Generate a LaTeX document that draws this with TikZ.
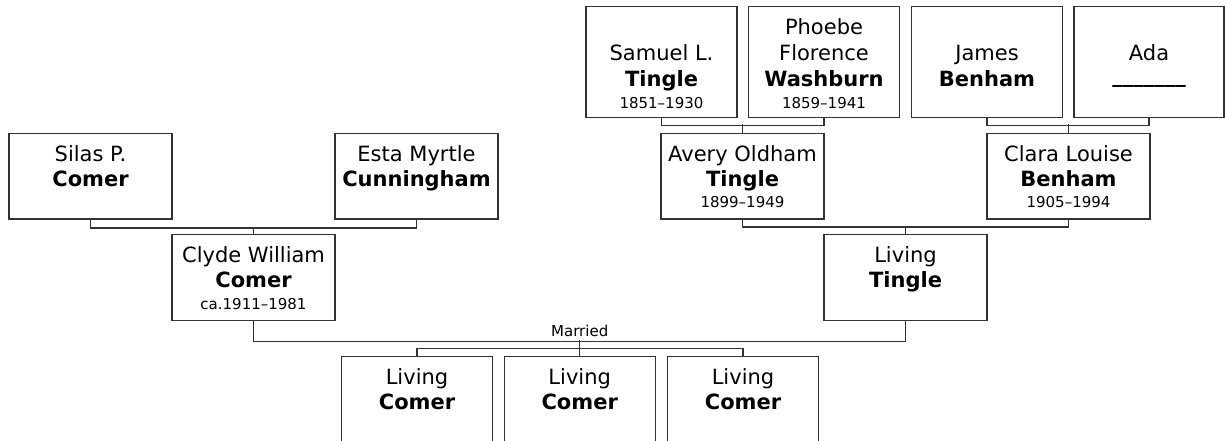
\documentclass[tikz,border=0pt]{standalone}
\usepackage{fontspec}
\setmainfont{DejaVu Sans}
\usetikzlibrary{calc}
\tikzset{
  topbox/.style={draw=black!80, line width=1.3pt, rectangle, inner sep=0pt, anchor=north, minimum width=151pt, minimum height=111pt},
  midbox/.style={draw=black!80, line width=1.3pt, rectangle, inner sep=0pt, anchor=north, minimum width=163pt, minimum height=85.5pt},
  kidbox/.style={draw=black!80, line width=1.3pt, rectangle, inner sep=0pt, anchor=north, minimum width=151pt, minimum height=112pt},
  conn/.style={draw=black!80, line width=1.3pt},
  gvn/.style={anchor=base, inner sep=0pt, font=\fontsize{21}{25}\selectfont},
  srn/.style={anchor=base, inner sep=0pt, font=\fontsize{21}{25}\selectfont\bfseries},
  dts/.style={anchor=base, inner sep=0pt, font=\fontsize{15}{18}\selectfont},
  lbl/.style={anchor=base, inner sep=0pt, font=\fontsize{15}{18}\selectfont}
}
\begin{document}
\begin{tikzpicture}[x=1pt,y=-1pt]
\clip (0,0) rectangle (1225,441);
\fill[white] (0,0) rectangle (1225,441);
% top row
\node[topbox] (sam) at (661.5,6) {};
\node[topbox] (pho) at (824,6) {};
\node[topbox] (jam) at (987,6) {};
\node[topbox, minimum width=150pt] (ada) at (1149,6) {};
% middle row
\node[midbox] (silas) at (90.5,132.7) {};
\node[midbox] (esta) at (416.5,132.7) {};
\node[midbox] (avery) at (742.5,132.7) {};
\node[midbox] (clara) at (1068.5,132.7) {};
% third row
\node[midbox] (clyde) at (253.5,234) {};
\node[midbox] (ltingle) at (905.5,234) {};
% children
\node[kidbox] (k1) at (417,356) {};
\node[kidbox] (k2) at (579.7,356) {};
\node[kidbox] (k3) at (743,356) {};

% texts top row
\node[gvn] (samg) at ($(sam.north)+(0,55)$) {Samuel L.};
\node[srn] (sams) at ($(sam.north)+(0,81)$) {Tingle};
\node[dts] (samd) at ($(sam.north)+(0,102.5)$) {1851–1930};
\node[gvn] (phog1) at ($(pho.north)+(0,29)$) {Phoebe};
\node[gvn] (phog2) at ($(pho.north)+(0,55)$) {Florence};
\node[srn] (phos) at ($(pho.north)+(0,81)$) {Washburn};
\node[dts] (phod) at ($(pho.north)+(0,102.5)$) {1859–1941};
\node[gvn] (jamg) at ($(jam.north)+(0,55)$) {James};
\node[srn] (jams) at ($(jam.north)+(0,81)$) {Benham};
\node[gvn] (adag) at ($(ada.north)+(0,55)$) {Ada};
\node[srn] (adas) at ($(ada.north)+(0,81)$) {\raisebox{4pt}{\_\_\_\_\_\_\_}};
% texts middle row
\node[gvn] (silg) at ($(silas.north)+(0,28.5)$) {Silas P.};
\node[srn] (sils) at ($(silas.north)+(0,53.5)$) {Comer};
\node[gvn] (estg) at ($(esta.north)+(0,28.5)$) {Esta Myrtle};
\node[srn] (ests) at ($(esta.north)+(0,53.5)$) {Cunningham};
\node[gvn] (aveg) at ($(avery.north)+(0,28.5)$) {Avery Oldham};
\node[srn] (aves) at ($(avery.north)+(0,53.5)$) {Tingle};
\node[dts] (aved) at ($(avery.north)+(0,75)$) {1899–1949};
\node[gvn] (clag) at ($(clara.north)+(0,28.5)$) {Clara Louise};
\node[srn] (clas) at ($(clara.north)+(0,53.5)$) {Benham};
\node[dts] (clad) at ($(clara.north)+(0,75)$) {1905–1994};
% third row
\node[gvn] (clyg) at ($(clyde.north)+(0,28.5)$) {Clyde William};
\node[srn] (clys) at ($(clyde.north)+(0,53.5)$) {Comer};
\node[dts] (clyd) at ($(clyde.north)+(0,75)$) {ca.1911–1981};
\node[gvn] (ltig) at ($(ltingle.north)+(0,28.5)$) {Living};
\node[srn] (ltis) at ($(ltingle.north)+(0,53.5)$) {Tingle};
% children
\node[gvn] (k1g) at ($(k1.north)+(0,28.5)$) {Living};
\node[srn] (k1s) at ($(k1.north)+(0,53.5)$) {Comer};
\node[gvn] (k2g) at ($(k2.north)+(0,28.5)$) {Living};
\node[srn] (k2s) at ($(k2.north)+(0,53.5)$) {Comer};
\node[gvn] (k3g) at ($(k3.north)+(0,28.5)$) {Living};
\node[srn] (k3s) at ($(k3.north)+(0,53.5)$) {Comer};

% connectors
\draw[conn] (sam.south) -- ++(0,7) -| (pho.south);
\draw[conn] (avery.north) -- ++(0,-8.4);
\draw[conn] (jam.south) -- ++(0,7) -| (ada.south);
\draw[conn] (clara.north) -- ++(0,-8.4);
\draw[conn] (silas.south) -- ++(0,8.5) -| (esta.south);
\draw[conn] (clyde.north) -- ++(0,-7.3);
\draw[conn] (avery.south) -- ++(0,7.5) -| (clara.south);
\draw[conn] (ltingle.north) -- ++(0,-8.3);
\draw[conn] (clyde.south) -- ++(0,21) -| (ltingle.south);
\coordinate (mar) at (579.7,340.3);
\node[lbl] (married) at (579.7,336.5) {Married};
\draw[conn] (mar) -- (k2.north);
\draw[conn] (k1.north) -- ++(0,-7.7) -| (k3.north);
\end{tikzpicture}
\end{document}
